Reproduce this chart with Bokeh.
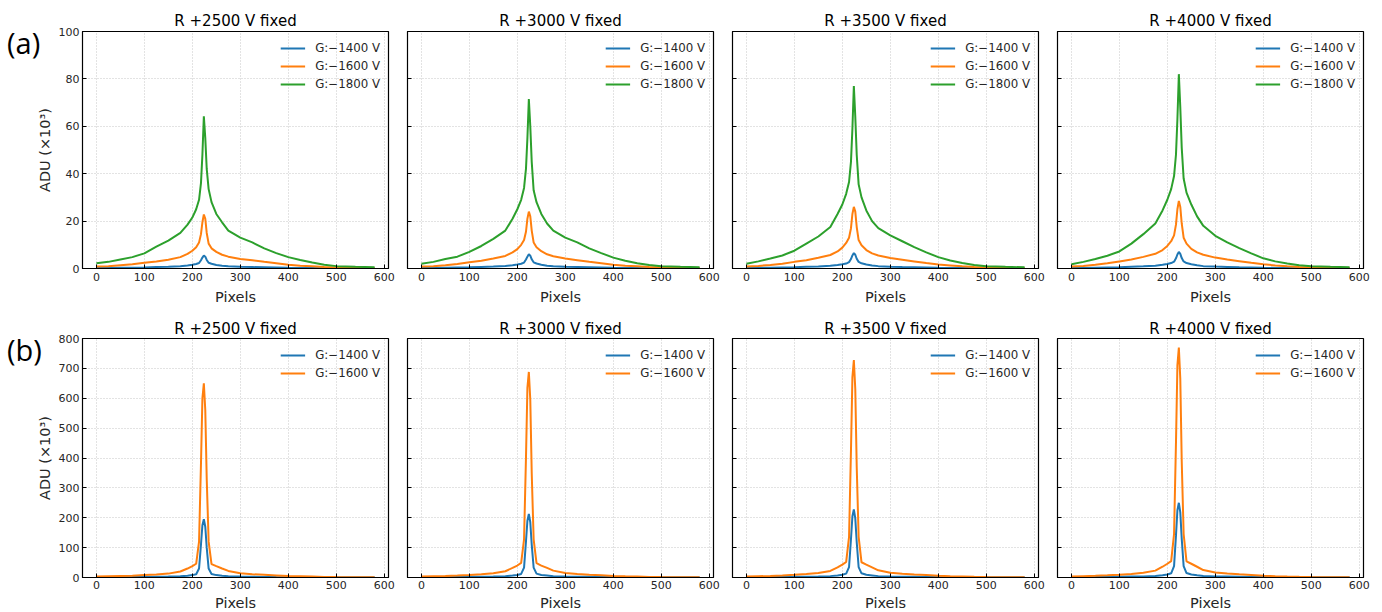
from bokeh.plotting import figure
from bokeh.layouts import column, row
from bokeh.models import Range1d, Legend, LegendItem, Div, FixedTicker, CustomJSTickFormatter
from bokeh.embed import file_html
from bokeh.resources import INLINE

# ---------------- data ----------------
pixels = [0, 25, 50, 75, 100, 125, 150, 175, 190, 200, 208, 214, 218, 221, 224, 227, 230, 234,
          240, 250, 262, 275, 300, 325, 350, 375, 400, 425, 450, 475, 500, 540, 580]

titles = ["R +2500 V fixed", "R +3000 V fixed", "R +3500 V fixed", "R +4000 V fixed"]
row_tags = ["(a)", "(b)"]
labels_a = ["G:\u22121400 V", "G:\u22121600 V", "G:\u22121800 V"]
labels_b = ["G:\u22121400 V", "G:\u22121600 V"]
x_ticks = [0, 100, 200, 300, 400, 500, 600]
y_ticks_a = [0, 20, 40, 60, 80, 100]
y_ticks_b = [0, 100, 200, 300, 400, 500, 600, 700, 800]

# (a) row, ADU x10^3
a2500_g1400 = [0.2, 0.2, 0.3, 0.35, 0.45, 0.6, 0.75, 1.0, 1.3, 1.6, 1.9, 2.3, 3.5, 4.6, 5.5, 5.0, 3.6, 2.4,
               2.0, 1.5, 1.2, 0.9, 0.7, 0.6, 0.5, 0.4, 0.3, 0.25, 0.2, 0.15, 0.1, 0.1, 0.1]
a2500_g1600 = [0.8, 1.0, 1.4, 1.8, 2.4, 3.0, 3.7, 4.8, 6.2, 7.5, 9.0, 11.0, 14.5, 19.5, 22.8, 21.0, 15.0, 10.5,
               8.5, 7.0, 5.8, 5.0, 4.0, 3.5, 2.8, 2.2, 1.6, 1.2, 0.9, 0.6, 0.4, 0.3, 0.2]
a2500_g1800 = [2.2, 2.8, 3.8, 4.8, 6.4, 9.2, 11.8, 15.0, 18.5, 21.5, 25.0, 29.0, 36.0, 48.0, 64.2, 55.0, 42.0, 33.5,
               28.0, 23.0, 19.5, 16.0, 13.0, 11.0, 8.5, 6.5, 4.8, 3.6, 2.5, 1.6, 1.0, 0.7, 0.5]

a3000_g1400 = [0.2, 0.2, 0.3, 0.4, 0.5, 0.65, 0.8, 1.1, 1.4, 1.7, 2.0, 2.5, 3.8, 5.0, 6.0, 5.4, 3.9, 2.6,
               2.1, 1.6, 1.2, 0.9, 0.7, 0.6, 0.5, 0.4, 0.3, 0.25, 0.2, 0.15, 0.1, 0.1, 0.1]
a3000_g1600 = [0.8, 1.0, 1.4, 1.9, 2.6, 3.3, 4.2, 5.3, 6.8, 8.2, 10.0, 12.0, 15.5, 21.0, 24.0, 22.0, 16.0, 11.0,
               9.0, 7.3, 6.0, 5.2, 4.2, 3.5, 2.8, 2.2, 1.6, 1.2, 0.9, 0.6, 0.4, 0.3, 0.2]
a3000_g1800 = [2.0, 2.8, 4.0, 5.0, 7.0, 9.5, 12.5, 16.0, 21.0, 25.0, 29.0, 34.0, 42.0, 55.0, 71.5, 60.0, 45.0, 33.0,
               28.0, 23.0, 19.0, 16.0, 13.0, 11.0, 8.5, 6.5, 4.6, 3.3, 2.2, 1.5, 1.0, 0.7, 0.5]

a3500_g1400 = [0.2, 0.25, 0.3, 0.4, 0.5, 0.7, 0.85, 1.15, 1.5, 1.8, 2.1, 2.7, 4.0, 5.5, 6.5, 5.8, 4.1, 2.8,
               2.2, 1.7, 1.3, 1.0, 0.75, 0.6, 0.5, 0.4, 0.3, 0.25, 0.2, 0.15, 0.1, 0.1, 0.1]
a3500_g1600 = [0.8, 1.1, 1.5, 2.0, 2.8, 3.5, 4.5, 5.7, 7.2, 8.8, 10.8, 13.0, 17.0, 23.0, 26.0, 24.0, 17.5, 12.0,
               9.8, 7.8, 6.4, 5.5, 4.4, 3.7, 3.0, 2.3, 1.7, 1.3, 0.9, 0.6, 0.4, 0.3, 0.2]
a3500_g1800 = [2.0, 3.0, 4.2, 5.5, 7.5, 10.5, 13.5, 17.5, 23.0, 27.0, 31.5, 36.5, 45.0, 59.0, 77.0, 64.0, 48.0, 35.5,
               30.0, 24.5, 20.0, 17.0, 14.0, 11.5, 9.0, 6.8, 4.8, 3.4, 2.3, 1.5, 1.0, 0.7, 0.5]

a4000_g1400 = [0.2, 0.25, 0.35, 0.45, 0.55, 0.75, 0.9, 1.2, 1.6, 1.9, 2.3, 2.9, 4.3, 5.9, 7.0, 6.2, 4.4, 3.0,
               2.3, 1.8, 1.4, 1.0, 0.8, 0.65, 0.5, 0.4, 0.3, 0.25, 0.2, 0.15, 0.1, 0.1, 0.1]
a4000_g1600 = [0.8, 1.1, 1.6, 2.2, 3.0, 3.8, 4.9, 6.2, 7.8, 9.5, 11.5, 14.0, 18.5, 25.0, 28.5, 26.0, 19.0, 13.0,
               10.5, 8.3, 6.8, 5.8, 4.6, 3.8, 3.1, 2.4, 1.8, 1.3, 0.9, 0.6, 0.4, 0.3, 0.2]
a4000_g1800 = [1.8, 2.8, 4.0, 5.4, 7.2, 10.5, 14.5, 19.0, 24.5, 29.0, 33.5, 39.0, 48.0, 63.0, 82.0, 68.0, 51.0, 38.0,
               32.0, 27.0, 22.0, 18.0, 13.8, 11.0, 8.6, 6.4, 4.3, 3.0, 2.1, 1.4, 1.0, 0.7, 0.5]

# (b) row, ADU x10^3
b2500_g1400 = [1, 1, 1.2, 1.5, 2, 2.5, 3, 4, 6, 8, 11, 30, 110, 175, 195, 170, 100, 30,
               12, 8, 6, 4, 3, 2.5, 2, 1.5, 1.2, 1, 0.8, 0.7, 0.6, 0.5, 0.5]
b2500_g1600 = [3, 4, 5, 6, 8, 10, 13, 20, 30, 38, 46, 120, 380, 600, 650, 560, 330, 120,
               45, 38, 30, 22, 14, 11, 9, 7, 5, 4, 3, 2, 1.5, 1, 1]

b3000_g1400 = [1, 1, 1.2, 1.6, 2.1, 2.6, 3.2, 4.3, 6.5, 8.5, 12, 33, 120, 190, 213, 185, 110, 33,
               13, 8.5, 6.5, 4.3, 3.2, 2.6, 2.1, 1.6, 1.3, 1, 0.8, 0.7, 0.6, 0.5, 0.5]
b3000_g1600 = [3, 4, 5, 6.5, 8.5, 11, 14, 21, 32, 40, 49, 128, 400, 635, 688, 595, 350, 128,
               48, 40, 32, 23, 15, 12, 9.5, 7.5, 5.3, 4, 3, 2, 1.5, 1, 1]

b3500_g1400 = [1, 1.1, 1.3, 1.7, 2.2, 2.8, 3.4, 4.6, 7, 9, 13, 35, 128, 205, 228, 198, 118, 35,
               14, 9, 7, 4.6, 3.4, 2.8, 2.2, 1.7, 1.3, 1.1, 0.9, 0.7, 0.6, 0.5, 0.5]
b3500_g1600 = [3, 4.2, 5.3, 7, 9, 11.5, 15, 22, 34, 43, 52, 136, 425, 670, 728, 630, 370, 136,
               51, 43, 34, 24, 16, 12.5, 10, 8, 5.6, 4.2, 3.2, 2.2, 1.6, 1.1, 1]

b4000_g1400 = [1, 1.1, 1.4, 1.8, 2.4, 3, 3.7, 5, 7.5, 10, 14, 38, 140, 225, 250, 218, 130, 38,
               15, 10, 7.5, 5, 3.7, 3, 2.4, 1.8, 1.4, 1.1, 0.9, 0.7, 0.6, 0.5, 0.5]
b4000_g1600 = [3, 4.4, 5.6, 7.4, 9.5, 12, 16, 23, 36, 46, 55, 145, 450, 710, 770, 665, 390, 145,
               54, 46, 36, 25, 17, 13, 10.5, 8.5, 6, 4.4, 3.3, 2.3, 1.7, 1.1, 1]

row_a = [[a2500_g1400, a2500_g1600, a2500_g1800],
         [a3000_g1400, a3000_g1600, a3000_g1800],
         [a3500_g1400, a3500_g1600, a3500_g1800],
         [a4000_g1400, a4000_g1600, a4000_g1800]]
row_b = [[b2500_g1400, b2500_g1600],
         [b3000_g1400, b3000_g1600],
         [b3500_g1400, b3500_g1600],
         [b4000_g1400, b4000_g1600]]

COLORS = ["#1f77b4", "#ff7f0e", "#2ca02c"]
FONT = "DejaVu Sans"
TXT = "#262626"
X0, X1 = -29, 609
TAG_W = 32


def make_panel(col, title, series, names, ymax, yticks, top_row):
    left = 50 if col == 0 else 10
    right = 11 if col == 3 else 9
    if top_row:
        fh, tb, bb = 237, 31, 38
    else:
        fh, tb, bb = 239, 31, 36
    p = figure(frame_width=306, frame_height=fh,
               x_range=Range1d(X0, X1), y_range=Range1d(0, ymax),
               output_backend="svg", toolbar_location=None,
               min_border_left=left, min_border_right=right,
               min_border_top=tb, min_border_bottom=bb,
               background_fill_color="white", border_fill_color="white")
    if col == 0:
        p.border_fill_alpha = 0
    p.title.text = title
    p.title.align = "center"
    p.title.text_font = FONT
    p.title.text_font_size = "15px"
    p.title.text_font_style = "normal"
    p.title.text_color = "black"
    p.title.standoff = 3 if top_row else 2

    p.outline_line_color = "black"
    p.outline_line_width = 1.2
    p.outline_line_alpha = 1.0

    for ax in (p.xaxis[0], p.yaxis[0]):
        ax.major_tick_in = 4
        ax.major_tick_out = 0
        ax.minor_tick_line_color = None
        ax.axis_line_color = "black"
        ax.major_tick_line_color = "black"
        ax.major_label_text_font = FONT
        ax.major_label_text_font_size = "11px"
        ax.major_label_text_color = TXT
        ax.axis_label_text_font = FONT
        ax.axis_label_text_font_size = "14.5px"
        ax.axis_label_text_font_style = "normal"
        ax.axis_label_text_color = TXT

    p.xaxis.ticker = FixedTicker(ticks=x_ticks)
    p.yaxis.ticker = FixedTicker(ticks=yticks)
    p.xaxis.axis_label = "Pixels"
    p.xaxis.major_label_standoff = 4 if top_row else 3
    p.xaxis.axis_label_standoff = 5 if top_row else 3
    if col == 0:
        p.yaxis.axis_label = "ADU (\u00d710\u00b3)"
        p.yaxis.major_label_standoff = 3
        p.yaxis.axis_label_standoff = 3
    else:
        p.yaxis.formatter = CustomJSTickFormatter(code="return '';")
        p.yaxis.major_label_standoff = 0

    p.xgrid.ticker = FixedTicker(ticks=x_ticks)
    p.ygrid.ticker = FixedTicker(ticks=yticks)
    for g in (p.xgrid[0], p.ygrid[0]):
        g.grid_line_color = "#c6c6c6"
        g.grid_line_dash = "1 2"
        g.grid_line_width = 1

    items = []
    for i, (ys, nm) in enumerate(zip(series, names)):
        r = p.line(pixels, ys, line_color=COLORS[i], line_width=2)
        items.append(LegendItem(label=nm, renderers=[r]))
    leg = Legend(items=items, location="top_right",
                 border_line_alpha=0, background_fill_alpha=0,
                 label_text_font=FONT, label_text_font_size="11.8px", label_text_color=TXT,
                 glyph_width=25, glyph_height=18, label_height=18, spacing=0,
                 label_standoff=10, padding=2, margin=6)
    p.add_layout(leg)
    return p


def make_tag(text, h):
    return Div(text=text, width=TAG_W, height=h, margin=0,
               styles={"font-family": "'Open Sans', sans-serif", "font-size": "29px",
                       "line-height": "34px", "color": "black", "white-space": "nowrap",
                       "overflow": "visible", "padding-top": "26px", "padding-left": "7px",
                       "box-sizing": "border-box"})


top = [make_panel(c, titles[c], row_a[c], labels_a, 100, y_ticks_a, True) for c in range(4)]
bot = [make_panel(c, titles[c], row_b[c], labels_b, 800, y_ticks_b, False) for c in range(4)]

layout = column(row(make_tag(row_tags[0], 120), *top, spacing=0),
                row(make_tag(row_tags[1], 120), *bot, spacing=0), spacing=0)
open("out.html", "w").write(file_html(layout, INLINE))
